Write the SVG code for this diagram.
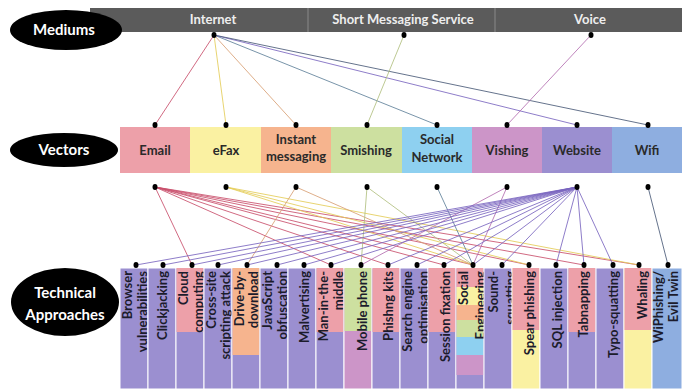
<svg xmlns="http://www.w3.org/2000/svg" width="690" height="389" viewBox="0 0 690 389">
  <style>
    .lbl { font-family: Lato, "Open Sans", "DejaVu Sans", sans-serif; font-weight: bold; fill: #ffffff; font-size: 15px; text-anchor: middle; }
    .bar { fill: #5b5b5b; }
    .sep { stroke: #8a8a8a; stroke-width: 1; }
    .med { font-family: Lato, "Open Sans", "DejaVu Sans", sans-serif; font-weight: bold; fill: #eeeeee; font-size: 13px; text-anchor: middle; }
    .vec { font-family: Lato, "Open Sans", "DejaVu Sans", sans-serif; font-weight: bold; fill: #2a2a2a; font-size: 13px; text-anchor: middle; }
    .tech { font-family: Lato, "Open Sans", "DejaVu Sans", sans-serif; font-weight: bold; fill: #1c1c2c; font-size: 13px; text-anchor: end; }
    .dot { fill: #000000; }
    .col { stroke: #ffffff; stroke-width: 1; }
    .c-em { fill: #eda0a9; } .c-fx { fill: #faf1a2; } .c-im { fill: #f6b48e; } .c-sm { fill: #cde0a0; }
    .c-sn { fill: #8ed0f0; } .c-vi { fill: #cc95c8; } .c-ws { fill: #9b8fd0; } .c-wf { fill: #8eaee0; }
    .l { fill: none; stroke-width: 1; stroke-opacity: 0.85; }
    .s-em { stroke: #c9506c; } .s-fx { stroke: #e4cc58; } .s-im { stroke: #d8a074; } .s-sm { stroke: #b2bf80; }
    .s-sn { stroke: #60819a; } .s-vi { stroke: #b46eb0; } .s-ws { stroke: #7a66c0; } .s-wf { stroke: #4a5a78; }
  </style>

  <rect width="690" height="389" fill="#ffffff"/>

  <!-- Mediums row -->
  <g id="mediums">
    <rect class="bar" x="90" y="8" width="592" height="24"/>
    <line class="sep" x1="308" y1="8" x2="308" y2="32"/>
    <line class="sep" x1="495" y1="8" x2="495" y2="32"/>
    <text class="med" x="213" y="24">Internet</text>
    <text class="med" x="403" y="24">Short Messaging Service</text>
    <text class="med" x="590" y="24">Voice</text>
  </g>
  <g id="label-mediums">
    <ellipse cx="66" cy="30" rx="56" ry="20" fill="#000"/>
    <text class="lbl" x="64" y="35">Mediums</text>
  </g>

  <!-- Vectors row -->
  <g id="label-vectors">
    <ellipse cx="64" cy="150" rx="54" ry="17" fill="#000"/>
    <text class="lbl" x="64" y="155">Vectors</text>
  </g>
  <g id="v-email"><rect class="c-em" x="120" y="127" width="70" height="46"/><text class="vec" x="155" y="155">Email</text></g>
  <g id="v-efax"><rect class="c-fx" x="190" y="127" width="71" height="46"/><text class="vec" x="226" y="155">eFax</text></g>
  <g id="v-im"><rect class="c-im" x="261" y="127" width="70" height="46"/><text class="vec" x="296" y="144">Instant</text><text class="vec" x="296" y="161">messaging</text></g>
  <g id="v-smishing"><rect class="c-sm" x="331" y="127" width="71" height="46"/><text class="vec" x="366" y="155">Smishing</text></g>
  <g id="v-social"><rect class="c-sn" x="402" y="127" width="70" height="46"/><text class="vec" x="437" y="144">Social</text><text class="vec" x="437" y="162">Network</text></g>
  <g id="v-vishing"><rect class="c-vi" x="472" y="127" width="70" height="46"/><text class="vec" x="507" y="155">Vishing</text></g>
  <g id="v-website"><rect class="c-ws" x="542" y="127" width="70" height="46"/><text class="vec" x="577" y="155">Website</text></g>
  <g id="v-wifi"><rect class="c-wf" x="612" y="127" width="70" height="46"/><text class="vec" x="647" y="155">Wifi</text></g>

  <!-- Technical approaches row -->
  <g id="label-technical">
    <ellipse cx="65" cy="302" rx="54" ry="34" fill="#000"/>
    <text class="lbl" x="65" y="298">Technical</text>
    <text class="lbl" x="65" y="320">Approaches</text>
  </g>

  <g id="t-browser"><rect class="col c-ws" x="120" y="268" width="28" height="121"/>
    <text class="tech" transform="translate(131.5,271) rotate(-90)">Browser<tspan x="0" dy="15">vulnerabilities</tspan></text></g>
  <g id="t-clickjacking"><rect class="col c-ws" x="148" y="268" width="28" height="121"/>
    <text class="tech" transform="translate(166.5,271) rotate(-90)">Clickjacking</text></g>
  <g id="t-cloud"><rect class="col c-ws" x="176" y="268" width="28" height="121"/><rect class="c-em" x="176.5" y="268" width="27" height="64"/>
    <text class="tech" transform="translate(187.5,271) rotate(-90)">Cloud<tspan x="0" dy="15">computing</tspan></text></g>
  <g id="t-xss"><rect class="col c-ws" x="204" y="268" width="28" height="121"/>
    <text class="tech" transform="translate(216,271) rotate(-90)">Cross-site<tspan x="0" dy="14">scripting attack</tspan></text></g>
  <g id="t-driveby"><rect class="col c-ws" x="232" y="268" width="28" height="121"/><rect class="c-im" x="232.5" y="268" width="27" height="87"/>
    <text class="tech" transform="translate(243.5,271) rotate(-90)">Drive-by-<tspan x="0" dy="14">download</tspan></text></g>
  <g id="t-jsobf"><rect class="col c-ws" x="260" y="268" width="28" height="121"/>
    <text class="tech" transform="translate(271.5,271) rotate(-90)">JavaScript<tspan x="0" dy="15">obfuscation</tspan></text></g>
  <g id="t-malvertising"><rect class="col c-ws" x="288" y="268" width="28" height="121"/>
    <text class="tech" transform="translate(308.5,271) rotate(-90)">Malvertising</text></g>
  <g id="t-mitm"><rect class="col c-ws" x="316" y="268" width="28" height="121"/><rect class="c-em" x="316.5" y="268" width="27" height="64"/>
    <text class="tech" transform="translate(327.5,271) rotate(-90)">Man-in-the-<tspan x="0" dy="15">middle</tspan></text></g>
  <g id="t-mobile"><rect class="col c-vi" x="344" y="268" width="28" height="121"/><rect class="c-sm" x="344.5" y="268" width="27" height="63"/>
    <text class="tech" transform="translate(366.5,271) rotate(-90)">Mobile phone</text></g>
  <g id="t-phishkits"><rect class="col c-ws" x="372" y="268" width="28" height="121"/><rect class="c-em" x="372.5" y="268" width="27" height="64"/>
    <text class="tech" transform="translate(392.5,271) rotate(-90)">Phishng kits</text></g>
  <g id="t-seo"><rect class="col c-ws" x="400" y="268" width="28" height="121"/>
    <text class="tech" transform="translate(411.5,271) rotate(-90)">Search engine<tspan x="0" dy="16">optimisation</tspan></text></g>
  <g id="t-session"><rect class="col c-ws" x="428" y="268" width="28" height="121"/><rect class="c-em" x="428.5" y="268" width="27" height="64"/>
    <text class="tech" transform="translate(449.5,271) rotate(-90)">Session fixation</text></g>
  <g id="t-social"><rect class="col c-ws" x="456" y="268" width="28" height="121"/>
    <rect class="c-em" x="456.5" y="268" width="27" height="19"/>
    <rect class="c-fx" x="456.5" y="287" width="27" height="18"/>
    <rect class="c-im" x="456.5" y="305" width="27" height="15"/>
    <rect class="c-sm" x="456.5" y="320" width="27" height="17"/>
    <rect class="c-sn" x="456.5" y="337" width="27" height="18"/>
    <rect class="c-vi" x="456.5" y="355" width="27" height="20"/>
    <text class="tech" transform="translate(467.5,271) rotate(-90)">Social<tspan x="0" dy="17">Engineering</tspan></text></g>
  <g id="t-sound"><rect class="col c-ws" x="484" y="268" width="28" height="121"/>
    <text class="tech" transform="translate(497.5,271) rotate(-90)">Sound-<tspan x="0" dy="17">squatting</tspan></text></g>
  <g id="t-spear"><rect class="col c-fx" x="512" y="268" width="28" height="121"/><rect class="c-em" x="512.5" y="268" width="27" height="62"/>
    <text class="tech" transform="translate(533.5,271) rotate(-90)">Spear phishing</text></g>
  <g id="t-sql"><rect class="col c-ws" x="540" y="268" width="28" height="121"/>
    <text class="tech" transform="translate(561.5,271) rotate(-90)">SQL injection</text></g>
  <g id="t-tabnapping"><rect class="col c-ws" x="568" y="268" width="28" height="121"/><rect class="c-em" x="568.5" y="268" width="27" height="64"/>
    <text class="tech" transform="translate(587.5,271) rotate(-90)">Tabnapping</text></g>
  <g id="t-typo"><rect class="col c-ws" x="596" y="268" width="28" height="121"/>
    <text class="tech" transform="translate(617.5,271) rotate(-90)">Typo-squatting</text></g>
  <g id="t-whaling"><rect class="col c-fx" x="624" y="268" width="28" height="121"/><rect class="c-em" x="624.5" y="268" width="27" height="62"/>
    <text class="tech" transform="translate(646.5,271) rotate(-90)">Whaling</text></g>
  <g id="t-wiphishing"><rect class="col c-wf" x="652" y="268" width="30" height="121"/>
    <text class="tech" transform="translate(662.5,271) rotate(-90)">WiPhishing/<tspan x="0" dy="15">Evil Twin</tspan></text></g>

  <!-- Connectors -->
  <g id="connectors">
    <!-- mediums to vectors -->
    <line class="l s-em" x1="214" y1="35" x2="155" y2="125"/>
    <line class="l s-fx" x1="214" y1="35" x2="226" y2="125"/>
    <line class="l s-im" x1="214" y1="35" x2="296" y2="125"/>
    <line class="l s-sn" x1="214" y1="35" x2="437" y2="125"/>
    <line class="l s-ws" x1="214" y1="35" x2="577" y2="125"/>
    <line class="l s-wf" x1="214" y1="35" x2="648" y2="125"/>
    <line class="l s-sm" x1="404" y1="35" x2="367" y2="125"/>
    <line class="l s-vi" x1="591" y1="35" x2="507" y2="125"/>

    <!-- Email -->
    <line class="l s-em" x1="155" y1="187" x2="192" y2="265"/>
    <line class="l s-em" x1="155" y1="187" x2="331" y2="265"/>
    <line class="l s-em" x1="155" y1="187" x2="388" y2="265"/>
    <line class="l s-em" x1="155" y1="187" x2="444" y2="265"/>
    <line class="l s-em" x1="155" y1="187" x2="473" y2="265"/>
    <line class="l s-em" x1="155" y1="187" x2="529" y2="265"/>
    <line class="l s-em" x1="155" y1="187" x2="584" y2="265"/>
    <line class="l s-em" x1="155" y1="187" x2="639" y2="265"/>
    <!-- eFax -->
    <line class="l s-fx" x1="226" y1="187" x2="473" y2="265"/>
    <line class="l s-fx" x1="226" y1="187" x2="529" y2="265"/>
    <line class="l s-fx" x1="226" y1="187" x2="639" y2="265"/>
    <!-- Instant messaging -->
    <line class="l s-im" x1="296" y1="187" x2="247" y2="265"/>
    <line class="l s-im" x1="296" y1="187" x2="473" y2="265"/>
    <!-- Smishing -->
    <line class="l s-sm" x1="367" y1="187" x2="361" y2="265"/>
    <line class="l s-sm" x1="367" y1="187" x2="473" y2="265"/>
    <!-- Social Network -->
    <line class="l s-sn" x1="437" y1="187" x2="473" y2="265"/>
    <!-- Vishing -->
    <line class="l s-vi" x1="507" y1="187" x2="361" y2="265"/>
    <line class="l s-vi" x1="507" y1="187" x2="473" y2="265"/>
    <!-- Website -->
    <line class="l s-ws" x1="577" y1="187" x2="136" y2="265"/>
    <line class="l s-ws" x1="577" y1="187" x2="163" y2="265"/>
    <line class="l s-ws" x1="577" y1="187" x2="192" y2="265"/>
    <line class="l s-ws" x1="577" y1="187" x2="218" y2="265"/>
    <line class="l s-ws" x1="577" y1="187" x2="247" y2="265"/>
    <line class="l s-ws" x1="577" y1="187" x2="277" y2="265"/>
    <line class="l s-ws" x1="577" y1="187" x2="304" y2="265"/>
    <line class="l s-ws" x1="577" y1="187" x2="331" y2="265"/>
    <line class="l s-ws" x1="577" y1="187" x2="388" y2="265"/>
    <line class="l s-ws" x1="577" y1="187" x2="417" y2="265"/>
    <line class="l s-ws" x1="577" y1="187" x2="444" y2="265"/>
    <line class="l s-ws" x1="577" y1="187" x2="473" y2="265"/>
    <line class="l s-ws" x1="577" y1="187" x2="502" y2="265"/>
    <line class="l s-ws" x1="577" y1="187" x2="556" y2="265"/>
    <line class="l s-ws" x1="577" y1="187" x2="584" y2="265"/>
    <line class="l s-ws" x1="577" y1="187" x2="613" y2="265"/>
    <!-- Wifi -->
    <line class="l s-wf" x1="648" y1="187" x2="668" y2="265"/>
  </g>

  <!-- Connection points -->
  <g id="dots">
    <ellipse class="dot" cx="214" cy="35" rx="2.5" ry="3"/>
    <ellipse class="dot" cx="404" cy="35" rx="2.5" ry="3"/>
    <ellipse class="dot" cx="591" cy="35" rx="2.5" ry="3"/>

    <ellipse class="dot" cx="155" cy="125" rx="2.5" ry="3"/>
    <ellipse class="dot" cx="226" cy="125" rx="2.5" ry="3"/>
    <ellipse class="dot" cx="296" cy="125" rx="2.5" ry="3"/>
    <ellipse class="dot" cx="367" cy="125" rx="2.5" ry="3"/>
    <ellipse class="dot" cx="437" cy="125" rx="2.5" ry="3"/>
    <ellipse class="dot" cx="507" cy="125" rx="2.5" ry="3"/>
    <ellipse class="dot" cx="577" cy="125" rx="2.5" ry="3"/>
    <ellipse class="dot" cx="648" cy="125" rx="2.5" ry="3"/>

    <ellipse class="dot" cx="155" cy="187" rx="2.5" ry="3"/>
    <ellipse class="dot" cx="226" cy="187" rx="2.5" ry="3"/>
    <ellipse class="dot" cx="296" cy="187" rx="2.5" ry="3"/>
    <ellipse class="dot" cx="367" cy="187" rx="2.5" ry="3"/>
    <ellipse class="dot" cx="437" cy="187" rx="2.5" ry="3"/>
    <ellipse class="dot" cx="507" cy="187" rx="2.5" ry="3"/>
    <ellipse class="dot" cx="577" cy="187" rx="2.5" ry="3"/>
    <ellipse class="dot" cx="648" cy="187" rx="2.5" ry="3"/>

    <ellipse class="dot" cx="136" cy="265" rx="2.5" ry="3"/>
    <ellipse class="dot" cx="163" cy="265" rx="2.5" ry="3"/>
    <ellipse class="dot" cx="192" cy="265" rx="2.5" ry="3"/>
    <ellipse class="dot" cx="218" cy="265" rx="2.5" ry="3"/>
    <ellipse class="dot" cx="247" cy="265" rx="2.5" ry="3"/>
    <ellipse class="dot" cx="277" cy="265" rx="2.5" ry="3"/>
    <ellipse class="dot" cx="304" cy="265" rx="2.5" ry="3"/>
    <ellipse class="dot" cx="331" cy="265" rx="2.5" ry="3"/>
    <ellipse class="dot" cx="361" cy="265" rx="2.5" ry="3"/>
    <ellipse class="dot" cx="388" cy="265" rx="2.5" ry="3"/>
    <ellipse class="dot" cx="417" cy="265" rx="2.5" ry="3"/>
    <ellipse class="dot" cx="444" cy="265" rx="2.5" ry="3"/>
    <ellipse class="dot" cx="473" cy="265" rx="2.5" ry="3"/>
    <ellipse class="dot" cx="502" cy="265" rx="2.5" ry="3"/>
    <ellipse class="dot" cx="529" cy="265" rx="2.5" ry="3"/>
    <ellipse class="dot" cx="556" cy="265" rx="2.5" ry="3"/>
    <ellipse class="dot" cx="584" cy="265" rx="2.5" ry="3"/>
    <ellipse class="dot" cx="613" cy="265" rx="2.5" ry="3"/>
    <ellipse class="dot" cx="639" cy="265" rx="2.5" ry="3"/>
    <ellipse class="dot" cx="668" cy="265" rx="2.5" ry="3"/>
  </g>
</svg>
